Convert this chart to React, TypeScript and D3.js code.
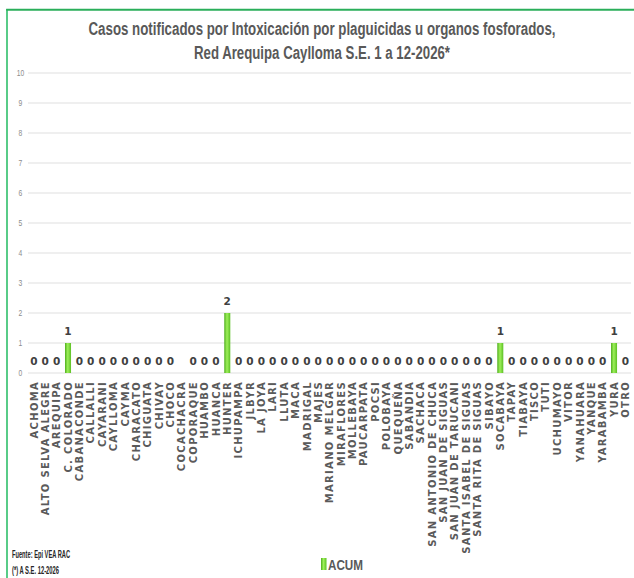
import React from "react";
import * as d3 from "d3";

const categories: string[] = [
  "ACHOMA", "ALTO SELVA ALEGRE", "AREQUIPA", "C. COLORADO", "CABANACONDE", "CALLALLI",
  "CAYARANI", "CAYLLOMA", "CAYMA", "CHARACATO", "CHIGUATA", "CHIVAY", "CHOCO",
  "COCACHACRA", "COPORAQUE", "HUAMBO", "HUANCA", "HUNTER", "ICHUPAMPA", "JLBYR",
  "LA JOYA", "LARI", "LLUTA", "MACA", "MADRIGAL", "MAJES", "MARIANO MELGAR",
  "MIRAFLORES", "MOLLEBAYA", "PAUCARPATA", "POCSI", "POLOBAYA", "QUEQUEÑA", "SABANDIA",
  "SACHACA", "SAN ANTONIO DE CHUCA", "SAN JUAN DE SIGUAS", "SAN JUAN DE TARUCANI",
  "SANTA ISABEL DE SIGUAS", "SANTA RITA DE SIGUAS", "SIBAYO", "SOCABAYA", "TAPAY",
  "TIABAYA", "TISCO", "TUTI", "UCHUMAYO", "VITOR", "YANAHUARA", "YANQUE", "YARABAMBA",
  "YURA", "OTRO",
];

// null = no value reported (no label drawn)
const acum: (number | null)[] = [
  0, 0, 0, 1, 0, 0, 0, 0, 0, 0, 0, 0, 0,
  null, 0, 0, 0, 2, 0, 0, 0, 0, 0, 0, 0, 0, 0,
  0, 0, 0, 0, 0, 0, 0, 0, 0, 0, 0,
  0, 0, 0, 1, 0, 0, 0, 0, 0, 0, 0, 0, 0,
  1, 0,
];

const yTicks: number[] = [0, 1, 2, 3, 4, 5, 6, 7, 8, 9, 10];

const titleLines: string[] = [
  "Casos notificados por Intoxicación por plaguicidas u organos fosforados,",
  "Red Arequipa Caylloma S.E. 1 a 12-2026*",
];
const titleWidths: number[] = [467, 256];
const seriesName = "ACUM";
const footer: string[] = ["Fuente: Epi VEA RAC", "(*) A S.E. 12-2026"];
const footerWidths: number[] = [58, 47];

const W = 634;
const H = 578;
const sans = "'Liberation Sans', Arial, sans-serif";
const SX = 0.74; // horizontal condensing for narrow-looking text

export default function App() {
  const x = d3
    .scaleBand<string>()
    .domain(categories)
    .range([28.2, 631.1])
    .paddingInner(0.47)
    .paddingOuter(0.235);
  const y = d3.scaleLinear().domain([0, 10]).range([373, 73]);
  const bw = x.bandwidth();

  return (
    <svg
      width={W}
      height={H}
      style={{ position: "absolute", left: 0, top: 0, background: "#fff" }}
    >
      <defs>
        <linearGradient id="barGrad" x1="0" x2="1" y1="0" y2="0">
          <stop offset="0" stopColor="#4fae1e" />
          <stop offset="0.45" stopColor="#9ef05a" />
          <stop offset="1" stopColor="#5cbf24" />
        </linearGradient>
      </defs>
      {/* frame */}
      <line x1={7} x2={7} y1={9} y2={H} stroke="#2fbf6a" strokeWidth={1.6} />
      <line x1={6.2} x2={W} y1={9.8} y2={9.8} stroke="#2aae5a" strokeWidth={2} />

      {/* title */}
      {titleLines.map((t, i) => (
        <g key={i} transform={`translate(${322 - titleWidths[i] / 2},${34.5 + i * 24}) scale(${SX},1)`}>
          <text
            x={0}
            y={0}
            textLength={titleWidths[i] / SX}
            lengthAdjust="spacingAndGlyphs"
            fontFamily={sans}
            fontWeight="bold"
            fontSize={18.5}
            fill="#595959"
          >
            {t}
          </text>
        </g>
      ))}

      {/* grid + y ticks */}
      {yTicks.map((t) => (
        <g key={t}>
          <line x1={28} x2={631} y1={y(t)} y2={y(t)} stroke="#e0e0e0" strokeWidth={1.2} />
          <text
            x={20.5}
            y={y(t) + 3}
            textAnchor="middle"
            fontFamily={sans}
            fontSize={9}
            transform={`translate(${20.5 * 0.25},0) scale(0.75,1)`}
            fill="#8c8c8c"
          >
            {t}
          </text>
        </g>
      ))}

      {/* bars */}
      {categories.map((c, i) => {
        const v = acum[i];
        const xc = (x(c) as number) + bw / 2;
        return (
          <g key={c}>
            {v !== null && v > 0 && (
              <rect
                x={x(c)}
                y={y(v)}
                width={bw}
                height={y(0) - y(v)}
                fill="url(#barGrad)"
              />
            )}
            {v !== null && (
              <text
                x={xc}
                y={y(v) - 8}
                textAnchor="middle"
                fontFamily="'DejaVu Sans', sans-serif"
                fontWeight="bold"
                fontSize={10.5}
                fill="#404040"
              >
                {v}
              </text>
            )}
            <text
              transform={`translate(${xc + 3.7},${381}) rotate(-90)`}
              textAnchor="end"
              fontFamily="'DejaVu Sans', sans-serif"
              fontWeight="bold"
              fontSize={10}
              letterSpacing={1.3}
              fill="#5a5a5a"
            >
              {c}
            </text>
          </g>
        );
      })}

      {/* legend */}
      <rect x={321} y={558} width={5.5} height={12} fill="url(#barGrad)" />
      <g transform={`translate(328,570) scale(${SX},1)`}>
        <text
          x={0}
          y={0}
          textLength={35 / SX}
          lengthAdjust="spacingAndGlyphs"
          fontFamily={sans}
          fontWeight="bold"
          fontSize={15}
          fill="#595959"
        >
          {seriesName}
        </text>
      </g>

      {/* footer */}
      {footer.map((f, i) => (
        <g key={i} transform={`translate(12,${558 + i * 16}) scale(${SX},1)`}>
          <text
            x={0}
            y={0}
            textLength={footerWidths[i] / SX}
            lengthAdjust="spacingAndGlyphs"
            fontFamily={sans}
            fontWeight="bold"
            fontSize={10}
            fill="#262626"
          >
            {f}
          </text>
        </g>
      ))}
    </svg>
  );
}
